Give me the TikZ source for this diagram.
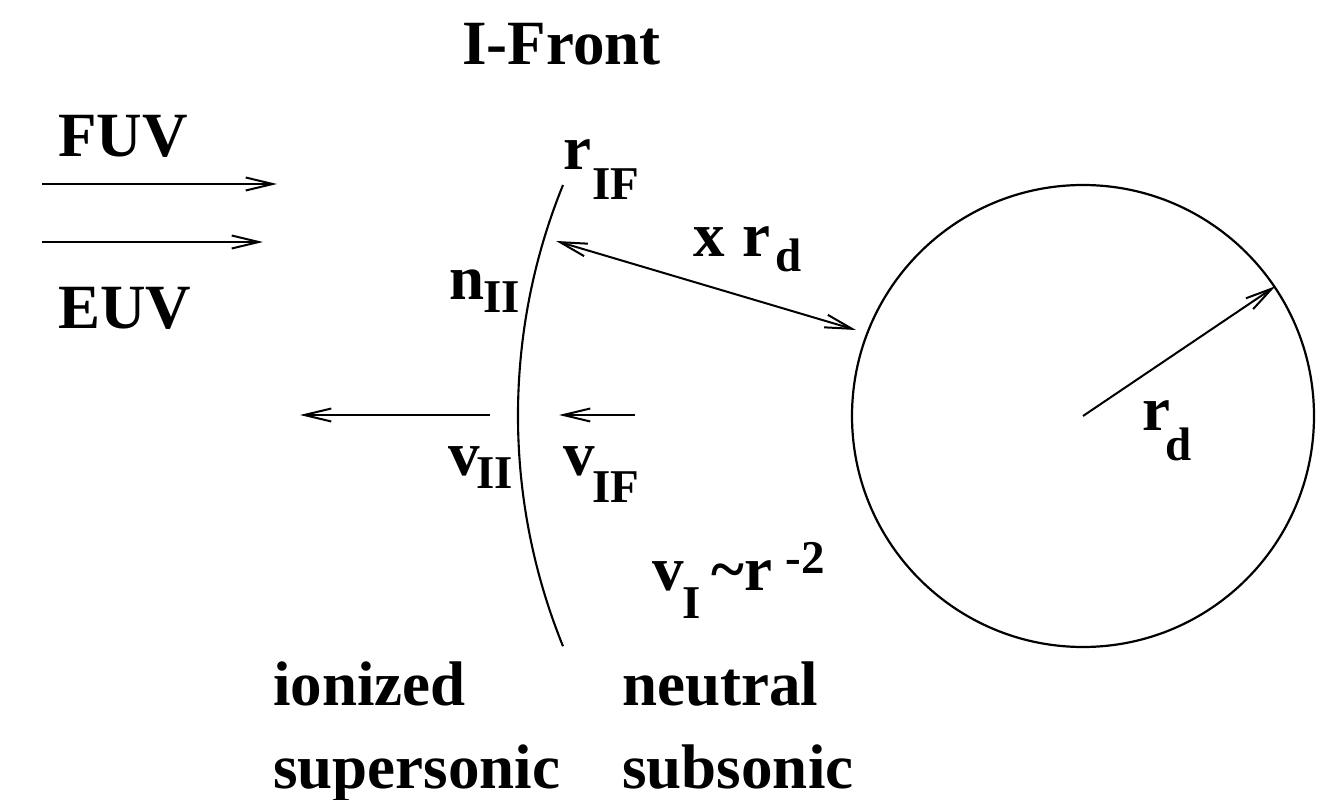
\documentclass[tikz,border=0pt]{standalone}
\usepackage{fontspec}
\setmainfont{LiberationSerif}[Extension=.ttf, UprightFont=*-Regular, BoldFont=*-Bold, ItalicFont=*-Italic, BoldItalicFont=*-BoldItalic]
\usetikzlibrary{arrows.meta}
\begin{document}
\begin{tikzpicture}[x=0.5pt,y=0.5pt,
  lbl/.style={inner sep=0pt, anchor=base west, font=\fontsize{31.5}{36}\selectfont\bfseries},
  sublbl/.style={inner sep=0pt, anchor=base west, font=\fontsize{23.5}{28}\selectfont\bfseries},
  conn/.style={line width=1pt, -{Straight Barb[length=13.5pt,width=6.5pt]}},
  dconn/.style={line width=1pt, {Straight Barb[length=13.5pt,width=6.5pt]}-{Straight Barb[length=13.5pt,width=6.5pt]}},
  front/.style={line width=1.05pt},
  disk/.style={circle, draw, line width=1.1pt, inner sep=0pt, minimum size=231pt}]
\useasboundingbox (0,0) rectangle (1338,799);
% titles and labels
\node[lbl] (ifront) at (462,734) {I-Front};
\node[lbl] (fuv) at (58,642) {FUV};
\node[lbl] (euv) at (58,470) {EUV};
\node[lbl] (rif) at (563,629) {r};
\node[sublbl] (rifs) at (592,599) {IF};
\node[lbl] (nii) at (449,499) {n};
\node[sublbl] (niis) at (483,486) {II};
\node[lbl] (xx) at (693,542) {x};
\node[lbl] (xr) at (742,542) {r};
\node[sublbl] (xrd) at (775,527) {d};
\node[lbl] (vii) at (448,324) {v};
\node[sublbl] (viis) at (476,311) {II};
\node[lbl] (vif) at (563,324) {v};
\node[sublbl] (vifs) at (592,297) {IF};
\node[lbl] (vi) at (652,209) {v};
\node[sublbl] (vis) at (682,181) {I};
\node[lbl] (tr) at (711,209) {\textasciitilde r};
\node[sublbl] (trexp) at (785,226) {-2};
\node[lbl] (rd) at (1142,369) {r};
\node[sublbl] (rds) at (1165,339) {d};
\node[lbl] (ion) at (273,94) {ionized};
\node[lbl] (sup) at (273,11) {supersonic};
\node[lbl] (neu) at (622,94) {neutral};
\node[lbl] (sub) at (622,11) {subsonic};
% disk
\node[disk] (dsk) at (1083,383) {};
% ionization front
\coordinate (ftop) at (563,614);
\draw[front] (ftop) arc[start angle=157.9, end angle=202.1, radius=613];
% radiation arrows
\coordinate (fuvA) at (42,615);
\coordinate (fuvB) at (277,615);
\coordinate (euvA) at (42,557);
\coordinate (euvB) at (263,557);
\draw[conn] (fuvA) -- (fuvB);
\draw[conn] (euvA) -- (euvB);
% distance arrow
\coordinate (dA) at (556,558);
\coordinate (dB) at (856,469);
\draw[dconn] (dA) -- (dB);
% radius arrow
\draw[conn] (dsk.center) -- (dsk.34.6);
% velocity arrows
\coordinate (vA) at (490,384);
\coordinate (vB) at (300,384);
\coordinate (wA) at (635,384);
\coordinate (wB) at (559,384);
\draw[conn] (vA) -- (vB);
\draw[conn] (wA) -- (wB);
\end{tikzpicture}
\end{document}
